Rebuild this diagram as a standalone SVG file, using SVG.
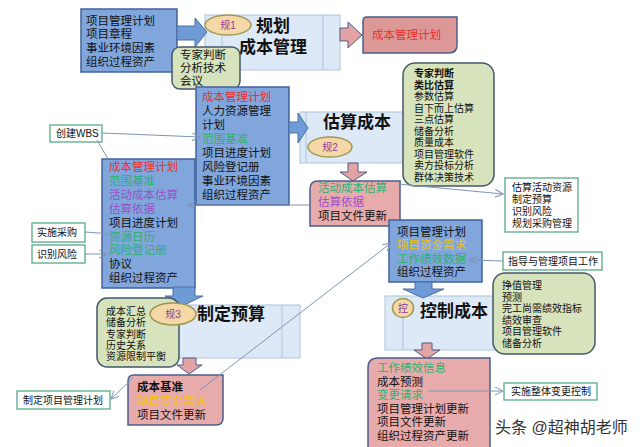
<svg xmlns="http://www.w3.org/2000/svg" width="640" height="447" viewBox="0 0 640 447">
<defs>
<marker id="ah" markerUnits="userSpaceOnUse" markerWidth="9" markerHeight="9" refX="8" refY="4" orient="auto">
<path d="M0,0 L8,4 L0,8" fill="none" stroke="#7f95b8" stroke-width="1"/>
</marker>
<style>
text{font-family:"Liberation Sans","Noto Sans CJK SC",sans-serif;fill:#111}
.inp{fill:#80a6dc;stroke:#41619c;stroke-width:1.5}
.proc{fill:#dde9f6;stroke:#b0c4dc;stroke-width:1}
.div{stroke:#b0c4dc;stroke-width:1}
.tool{fill:#d6e3bc;stroke:#46586a;stroke-width:1.5}
.out{fill:#e8abab;stroke:#4b5d8c;stroke-width:1.5}
.out1{fill:#dc9896;stroke:#4b5d8c;stroke-width:1.5}
.small{fill:#fff;stroke:#49a37a;stroke-width:1.2}
.barr{fill:#6e9bd6;stroke:#4a6fa5;stroke-width:1}
.parr{fill:#e3a3a3;stroke:#4b5d8c;stroke-width:1}
.ell{fill:#f6d7a7;stroke:#9c9a52;stroke-width:1.5}
.el{font-size:10px;fill:#8a3c9a;text-anchor:middle}
.t12{font-size:11.5px}
.t10{font-size:10px}
.ttl{font-size:17px;font-weight:bold}
.red{fill:#e8312f}
.grn{fill:#2fb070}
.pur{fill:#9b4fc8}
.yel{fill:#f2c200}
.b{font-weight:bold}
.conn{fill:none;stroke:#7f95b8;stroke-width:1}
</style>
</defs>

<!-- Plan cost management -->
<g id="proc1">
<rect class="proc" x="205" y="15" width="135" height="55"/>
<line class="div" x1="222" y1="15" x2="222" y2="70"/>
<line class="div" x1="323" y1="15" x2="323" y2="70"/>
<text class="ttl" x="273" y="32" text-anchor="middle">规划</text>
<text class="ttl" x="273" y="53" text-anchor="middle">成本管理</text>
<ellipse class="ell" cx="228" cy="25" rx="23" ry="10"/>
<text class="el" x="228" y="29">规1</text>
</g>
<g id="in1">
<rect class="inp" x="81" y="9" width="96" height="63"/>
<text class="t12" x="86" y="25">项目管理计划</text>
<text class="t12" x="86" y="38">项目章程</text>
<text class="t12" x="86" y="52">事业环境因素</text>
<text class="t12" x="86" y="66">组织过程资产</text>
</g>
<g id="arr1"><path class="barr" d="M177,26 H195 V18 L207,32 L195,47 V40 H177 Z"/></g>
<g id="tool1">
<rect class="tool" x="172" y="47" width="68" height="42" rx="8"/>
<text class="t12" x="180" y="59">专家判断</text>
<text class="t12" x="180" y="72">分析技术</text>
<text class="t12" x="180" y="85">会议</text>
</g>
<g id="arr1o"><path class="parr" d="M340,28 H348 V22 L362,35 L348,48 V41 H340 Z"/></g>
<g id="out1">
<path class="out1" d="M367,17 H457 V45 Q457,53 449,53 H363 V21 Q363,17 367,17 Z"/>
<text class="t12 red" x="372" y="39">成本管理计划</text>
</g>

<!-- Estimate costs -->
<g id="proc2">
<rect class="proc" x="300" y="112" width="105" height="51"/>
<line class="div" x1="306" y1="112" x2="306" y2="163"/>
<text class="ttl" x="357" y="128" text-anchor="middle">估算成本</text>
<ellipse class="ell" cx="330" cy="147" rx="22" ry="10"/>
<text class="el" x="330" y="151">规2</text>
</g>
<g id="in2">
<rect class="inp" x="196" y="87" width="93" height="118"/>
<text class="t12 red" x="202" y="101">成本管理计划</text>
<text class="t12" x="202" y="115">人力资源管理</text>
<text class="t12" x="202" y="129">计划</text>
<text class="t12 grn" x="202" y="143">范围基准</text>
<text class="t12" x="202" y="157">项目进度计划</text>
<text class="t12" x="202" y="171">风险登记册</text>
<text class="t12" x="202" y="185">事业环境因素</text>
<text class="t12" x="202" y="199">组织过程资产</text>
</g>
<g id="arr2"><path class="barr" d="M289,122 H298 V113 L308,128 L298,143 V133 H289 Z"/></g>
<g id="tool2">
<rect class="tool" x="403" y="63" width="91" height="123" rx="12"/>
<text class="t10 b" x="414" y="77">专家判断</text>
<text class="t10 b" x="414" y="88.5">类比估算</text>
<text class="t10" x="414" y="100">参数估算</text>
<text class="t10" x="414" y="111.5">自下而上估算</text>
<text class="t10" x="414" y="123">三点估算</text>
<text class="t10" x="414" y="134.5">储备分析</text>
<text class="t10" x="414" y="146">质量成本</text>
<text class="t10" x="414" y="157.5">项目管理软件</text>
<text class="t10" x="414" y="169">卖方投标分析</text>
<text class="t10" x="414" y="180.5">群体决策技术</text>
</g>
<g id="arr2o"><path class="parr" d="M348,163 H358 V172 H367 L353,181 L340,172 H348 Z"/></g>
<g id="out2">
<path class="out" d="M318,181 H400 V226 H310 V189 Q310,181 318,181 Z"/>
<text class="t12 grn" x="318" y="192">活动成本估算</text>
<text class="t12 pur" x="318" y="206">估算依据</text>
<text class="t12" x="318" y="220">项目文件更新</text>
</g>
<g id="est-next">
<rect class="small" x="505" y="178" width="73" height="54"/>
<text class="t10" x="512" y="191">估算活动资源</text>
<text class="t10" x="512" y="203">制定预算</text>
<text class="t10" x="512" y="215">识别风险</text>
<text class="t10" x="512" y="227">规划采购管理</text>
</g>

<!-- Determine budget -->
<g id="proc3">
<rect class="proc" x="175" y="305" width="125" height="53"/>
<line class="div" x1="282" y1="305" x2="282" y2="358"/>
<text class="ttl" x="231" y="320" text-anchor="middle">制定预算</text>
</g>
<g id="in3">
<rect class="inp" x="102" y="159" width="93" height="129"/>
<text class="t12 red" x="109" y="171">成本管理计划</text>
<text class="t12 grn" x="109" y="185">范围基准</text>
<text class="t12 pur" x="109" y="199">活动成本估算</text>
<text class="t12 pur" x="109" y="213">估算依据</text>
<text class="t12" x="109" y="227">项目进度计划</text>
<text class="t12 grn" x="109" y="241">资源日历</text>
<text class="t12 grn" x="109" y="254">风险登记册</text>
<text class="t12" x="109" y="268">协议</text>
<text class="t12" x="109" y="282">组织过程资产</text>
</g>
<g id="wbs">
<rect class="small" x="50" y="125" width="52" height="17"/>
<text class="t10" x="56" y="137">创建WBS</text>
</g>
<g id="proc-buy">
<rect class="small" x="32" y="223" width="53" height="19"/>
<text class="t10" x="37" y="236">实施采购</text>
</g>
<g id="risk">
<rect class="small" x="32" y="245" width="53" height="18"/>
<text class="t10" x="37" y="258">识别风险</text>
</g>
<g id="arr3"><path class="barr" d="M173,287 H195 V296 H203 L184,305 L165,296 H173 Z"/></g>
<g id="tool3">
<rect class="tool" x="97" y="298" width="82" height="69" rx="10"/>
<text class="t10" x="106" y="315">成本汇总</text>
<text class="t10" x="106" y="326.3">储备分析</text>
<text class="t10" x="106" y="337.6">专家判断</text>
<text class="t10" x="106" y="348.9">历史关系</text>
<text class="t10" x="106" y="360.2">资源限制平衡</text>
</g>
<g id="ell3">
<ellipse class="ell" cx="173" cy="314" rx="23" ry="11"/>
<text class="el" x="173" y="318">规3</text>
</g>
<g id="arr3o"><path class="parr" d="M183,358 H196 V365 H202 L189,374 L177,365 H183 Z"/></g>
<g id="out3">
<path class="out" d="M134,375 H223 V418 Q223,425 216,425 H128 V381 Q128,375 134,375 Z"/>
<text class="t12 b" x="137" y="391">成本基准</text>
<text class="t12 yel" x="137" y="405">项目资金需求</text>
<text class="t12" x="137" y="419">项目文件更新</text>
</g>
<g id="pmp">
<rect class="small" x="17" y="391" width="93" height="18"/>
<text class="t10" x="23" y="404">制定项目管理计划</text>
</g>

<!-- Control costs -->
<g id="proc4">
<rect class="proc" x="385" y="296" width="115" height="54"/>
<line class="div" x1="403" y1="317" x2="403" y2="350"/>
<text class="ttl" x="454" y="317" text-anchor="middle">控制成本</text>
<ellipse class="ell" cx="403" cy="308" rx="10.5" ry="9.5"/>
<text class="el" x="403" y="312">控</text>
</g>
<g id="in4">
<rect class="inp" x="389" y="220" width="93" height="62"/>
<text class="t12" x="397" y="236">项目管理计划</text>
<text class="t12 yel" x="397" y="249.3">项目资金需求</text>
<text class="t12 grn" x="397" y="262.6">工作绩效数据</text>
<text class="t12" x="397" y="276">组织过程资产</text>
</g>
<g id="dmw">
<rect class="small" x="503" y="252" width="99" height="18"/>
<text class="t10" x="508" y="265">指导与管理项目工作</text>
</g>
<g id="arr4"><path class="barr" d="M415,282 H432 V289 H444 L423,298 L403,289 H415 Z"/></g>
<g id="tool4">
<rect class="tool" x="493" y="273" width="102" height="81" rx="12"/>
<text class="t10" x="502" y="289">挣值管理</text>
<text class="t10" x="502" y="300.5">预测</text>
<text class="t10" x="502" y="312">完工尚需绩效指标</text>
<text class="t10" x="502" y="323.5">绩效审查</text>
<text class="t10" x="502" y="335">项目管理软件</text>
<text class="t10" x="502" y="346.5">储备分析</text>
</g>
<g id="arr4o"><path class="parr" d="M422,343 H432 V350 H440 L427,359 L414,350 H422 Z"/></g>
<g id="out4">
<path class="out" d="M378,358 H490 V450 H368 V368 Q368,358 378,358 Z"/>
<text class="t12 grn" x="377" y="372">工作绩效信息</text>
<text class="t12" x="377" y="385.5">成本预测</text>
<text class="t12 grn" x="377" y="399">变更请求</text>
<text class="t12" x="377" y="412.5">项目管理计划更新</text>
<text class="t12" x="377" y="426">项目文件更新</text>
<text class="t12" x="377" y="439.5">组织过程资产更新</text>
</g>
<g id="icc">
<rect class="small" x="504" y="383" width="93" height="17"/>
<text class="t10" x="511" y="395">实施整体变更控制</text>
</g>

<g id="connectors">
<line class="conn" x1="102" y1="133" x2="200" y2="137" marker-end="url(#ah)"/>
<line class="conn" x1="97" y1="140" x2="108" y2="159"/>
<line class="conn" x1="310" y1="205" x2="188" y2="205" marker-end="url(#ah)"/>
<line class="conn" x1="398" y1="184" x2="503" y2="194" marker-end="url(#ah)"/>
<line class="conn" x1="85" y1="232" x2="112" y2="234"/>
<line class="conn" x1="85" y1="254" x2="107" y2="254" marker-end="url(#ah)"/>
<line class="conn" x1="133" y1="378" x2="111" y2="399" marker-end="url(#ah)"/>
<line class="conn" x1="200" y1="390" x2="391" y2="243" marker-end="url(#ah)"/>
<line class="conn" x1="503" y1="261" x2="469" y2="260" marker-end="url(#ah)"/>
<line class="conn" x1="428" y1="391" x2="503" y2="391" marker-end="url(#ah)"/>
</g>

<text x="495" y="433" style="font-size:16px;fill:#333">头条 @超神胡老师</text>
</svg>
